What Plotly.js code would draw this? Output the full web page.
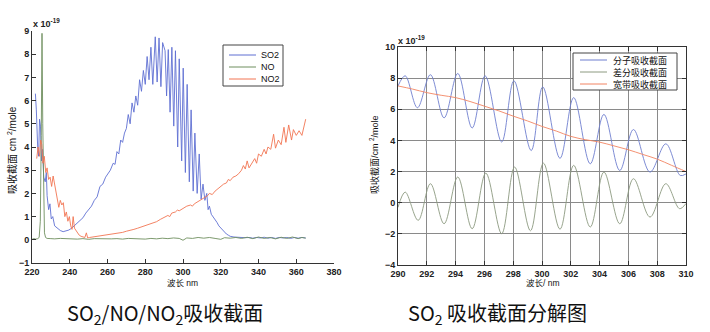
<!DOCTYPE html>
<html>
<head>
<meta charset="utf-8">
<script src="https://cdn.plot.ly/plotly-3.0.1.min.js"></script>
<style>html,body{margin:0;padding:0;background:#fff;}#chart{width:710px;height:332px;}</style>
</head>
<body>
<div id="chart"></div>
<script>
// ---------- Left chart: SO2 / NO / NO2 absorption cross sections (x 1e-19) ----------
const so2X = [221.8,222.3,223.0,223.5,224.0,224.5,225.0,225.6,226.2,227.0,227.6,228.0,228.8,229.5,230.2,231.0,232.0,233.5,235,236.5,238,239.5,241,242.5,244,245.5,247,248.5,250,251.5,253,254.5,256,257.5,259,260.5,261.5,263,264,265,266,267,268,269,270,271,272,273,274,275,276,277,278,279,280,281,282,283,284,285.3,286.3,287.3,288.3,289.2,290.5,291.3,292.2,293.15,294.1,295.1,296.0,297.2,298.0,299.3,300.1,301.25,302.2,303.35,304.3,305.4,306.3,307.5,308.6,309.6,310.6,311.6,312.6,313.3,314.0,315,316,317,318,319,320,321,322,323,324,325,327,329,331,333,335,337,339,341,343,345,347,349,351,353,355,357,359,361,363,365];
const so2Y = [6.3,5.6,4.0,3.6,5.2,4.9,3.4,3.9,2.7,2.5,2.9,1.9,1.3,1.55,0.9,1.0,0.6,0.5,0.4,0.35,0.38,0.42,0.5,0.62,0.7,0.85,0.95,1.15,1.3,1.45,1.7,1.85,2.3,2.4,2.7,2.85,3.0,3.3,3.25,3.8,3.7,4.3,4.2,4.6,4.8,5.4,5.0,5.9,5.5,6.2,5.8,6.9,6.4,7.3,6.7,7.9,6.9,8.3,6.7,8.75,6.8,8.7,6.6,8.5,8.15,6.2,8.2,5.5,8.3,4.9,8.15,4.0,7.8,3.4,7.4,2.9,6.7,2.5,5.6,2.1,4.6,2.0,3.7,1.75,2.4,1.7,2.0,1.3,1.45,1.1,1.0,0.85,0.75,0.6,0.5,0.42,0.33,0.25,0.2,0.15,0.12,0.1,0.1,0.09,0.1,0.07,0.1,0.08,0.11,0.07,0.1,0.06,0.1,0.08,0.1,0.06,0.1,0.07,0.1,0.08];

const noX = [220,221,222,223,223.8,224.4,224.9,225.3,225.7,226.1,226.6,227.2,228,230,232,235,238,241,244,247,250,253,256,259,262,265,268,271,274,277,280,283,286,289,292,295,298,300,302,305,308,311,314,317,320,322,325,328,331,334,337,340,343,346,349,352,355,358,361,363,365];
const noY = [0.02,0.05,0.03,0.05,0.1,0.8,4.5,8.9,5.0,1.5,0.3,0.1,0.06,0.05,0.04,0.06,0.04,0.05,0.03,0.05,0.02,0.05,0.04,0.06,0.04,0.05,0.03,0.06,0.04,0.05,0.03,0.06,0.04,0.07,0.05,0.08,0.06,-0.02,0.08,0.06,0.1,0.07,0.1,0.06,0.02,0.09,0.07,0.1,0.06,0.11,0.05,0.12,0.06,0.1,0.04,0.11,0.06,0.12,0.05,0.1,0.07];

const no2X = [222.5,223.2,224.0,224.6,225.2,225.8,226.5,227.3,228.0,228.8,229.6,230.4,231.2,232,232.8,233.5,234.2,235,235.8,236.6,237.4,238.2,239,239.8,240.5,241.2,241.8,242.5,243.3,244.2,245,246,247,248,248.8,249.5,250.5,252,254,256,258,260,262,264,266,268,270,272,274,276,278,280,282,284,286,288,290,292,293,294,296,297,298,300,302,304,305,306,308,310,312,313,314,315.5,317,318.5,320,321.5,323,324,325,326.5,328,329.5,331,332,333,334,335,336.5,338,339,340,341.5,343,344,345,346.5,348,349,350.5,352,353.5,354.5,356,357.5,358.5,360,361.5,363,365];
const no2Y = [3.5,4.0,3.6,4.3,4.1,3.3,3.6,2.9,3.1,2.6,2.7,2.3,2.75,2.4,2.1,1.8,1.4,1.7,1.5,1.6,1.0,1.2,0.8,1.0,0.6,0.45,1.0,0.5,0.4,0.3,0.2,0.15,0.12,0.1,0.3,0.08,0.1,0.12,0.13,0.15,0.18,0.2,0.22,0.25,0.3,0.32,0.37,0.4,0.45,0.5,0.55,0.6,0.65,0.72,0.78,0.88,0.95,1.05,1.0,1.15,1.2,1.28,1.25,1.35,1.45,1.5,1.45,1.55,1.65,1.75,1.85,1.9,2.0,1.95,2.1,2.2,2.3,2.4,2.45,2.6,2.55,2.7,2.75,2.85,3.0,3.2,3.05,3.4,3.1,3.3,3.5,3.3,3.7,3.6,3.9,3.7,4.0,3.9,4.55,3.95,4.3,4.1,4.85,4.2,4.95,4.3,4.75,4.5,4.7,4.5,5.2];

const leftNames = ['SO2','NO','NO2'];

// ---------- Right chart: SO2 cross-section decomposition (x 1e-19) ----------
const molX = [290.0,290.5,291.35,292.25,293.2,294.15,295.15,296.05,297.2,298.05,299.25,300.05,301.25,302.2,303.35,304.3,305.4,306.35,307.5,308.6,309.6,310.0];
const molY = [7.5,8.15,6.1,8.22,5.45,8.3,4.8,8.15,3.9,7.83,3.35,7.44,2.85,6.75,2.5,5.67,2.07,4.7,1.97,3.78,1.75,1.85];
const difX = [290.0,290.5,291.4,292.25,293.2,294.15,295.15,296.1,297.2,298.1,299.2,300.1,301.25,302.2,303.35,304.3,305.4,306.35,307.5,308.6,309.55,310.0];
const difY = [-0.3,0.68,-1.13,1.22,-1.35,1.65,-1.67,1.9,-1.99,2.29,-1.8,2.54,-1.7,2.4,-1.56,1.97,-1.35,1.54,-0.92,1.22,-0.38,-0.05];
const bbX = [290,291,292,293,294,295,296,297,298,299,300,301,302,303,304,305,306,307,308,309,310];
const bbY = [7.5,7.3,7.07,6.9,6.75,6.5,6.2,5.9,5.56,5.25,4.9,4.6,4.26,4.05,3.89,3.65,3.4,3.1,2.8,2.4,2.0];
const rightNames = ['分子吸收截面','差分吸收截面','宽带吸收截面'];

const leftColors = ['#5f6fd2','#6e8f5e','#f27552'];
const rightColors = ['#6f7fcf','#8c9a80','#f28462'];

const W = 710, H = 332;
const px = v => v / W;
const py = v => 1 - v / H;

const traces = [
  {x: so2X, y: so2Y, name: leftNames[0], type:'scatter', mode:'lines', line:{color:leftColors[0], width:0.9}, xaxis:'x', yaxis:'y'},
  {x: noX, y: noY, name: leftNames[1], type:'scatter', mode:'lines', line:{color:leftColors[1], width:0.9}, xaxis:'x', yaxis:'y'},
  {x: no2X, y: no2Y, name: leftNames[2], type:'scatter', mode:'lines', line:{color:leftColors[2], width:0.9}, xaxis:'x', yaxis:'y'},
  {x: molX, y: molY, name: rightNames[0], type:'scatter', mode:'lines', line:{color:rightColors[0], width:0.9, shape:'spline', smoothing:1}, xaxis:'x2', yaxis:'y2'},
  {x: difX, y: difY, name: rightNames[1], type:'scatter', mode:'lines', line:{color:rightColors[1], width:0.9, shape:'spline', smoothing:1}, xaxis:'x2', yaxis:'y2'},
  {x: bbX, y: bbY, name: rightNames[2], type:'scatter', mode:'lines', line:{color:rightColors[2], width:0.9, shape:'spline', smoothing:1}, xaxis:'x2', yaxis:'y2'}
];

const tickFont = {family:'Liberation Sans, Arial, sans-serif', size:9, color:'#222', weight:'bold'};
const axBase = {ticks:'inside', ticklen:4, tickwidth:1, tickcolor:'#333', showline:true, linecolor:'#333', linewidth:1, zeroline:false, tickfont:tickFont, fixedrange:true};

const shapes = [];
const annotations = [];

// left legend (drawn box)
shapes.push({type:'rect', xref:'paper', yref:'paper', x0:px(223), x1:px(283), y0:py(45), y1:py(86), line:{color:'#444', width:1}, fillcolor:'#fff'});
const leftLegY = [55, 67, 79];
leftNames.forEach((n,i) => {
  shapes.push({type:'line', xref:'paper', yref:'paper', x0:px(229), x1:px(256), y0:py(leftLegY[i]), y1:py(leftLegY[i]), line:{color:leftColors[i], width:1}});
  annotations.push({xref:'paper', yref:'paper', x:px(259), y:py(leftLegY[i]), text:n, showarrow:false, xanchor:'left', yanchor:'middle', font:{family:'Liberation Sans, Arial, sans-serif', size:9, color:'#111'}});
});

// right legend (drawn box)
shapes.push({type:'rect', xref:'paper', yref:'paper', x0:px(573), x1:px(677), y0:py(53), y1:py(90), line:{color:'#444', width:1}, fillcolor:'#fff'});
const rightLegY = [60, 72, 84];
rightNames.forEach((n,i) => {
  shapes.push({type:'line', xref:'paper', yref:'paper', x0:px(580), x1:px(607), y0:py(rightLegY[i]), y1:py(rightLegY[i]), line:{color:rightColors[i], width:1}});
  annotations.push({xref:'paper', yref:'paper', x:px(611), y:py(rightLegY[i]), text:n, showarrow:false, xanchor:'left', yanchor:'middle', font:{family:'Noto Sans CJK SC, sans-serif', size:9, color:'#111'}});
});

// exponent labels
annotations.push({xref:'paper', yref:'paper', x:px(31), y:py(23), text:'x 10<sup>-19</sup>', showarrow:false, xanchor:'left', yanchor:'middle', font:tickFont});
annotations.push({xref:'paper', yref:'paper', x:px(396), y:py(40), text:'x 10<sup>-19</sup>', showarrow:false, xanchor:'left', yanchor:'middle', font:tickFont});

// axis titles
annotations.push({xref:'paper', yref:'paper', x:px(12), y:py(150), text:'吸收截面 cm <sup>2</sup>/mole', textangle:-90, showarrow:false, xanchor:'center', yanchor:'middle', font:{family:'Liberation Sans, Noto Sans CJK SC, sans-serif', size:10, color:'#111'}});
annotations.push({xref:'paper', yref:'paper', x:px(374), y:py(155), text:'吸收截面/cm <sup>2</sup>/mole', textangle:-90, showarrow:false, xanchor:'center', yanchor:'middle', font:{family:'Liberation Sans, Noto Sans CJK SC, sans-serif', size:9, color:'#111'}});
annotations.push({xref:'paper', yref:'paper', x:px(182), y:py(283), text:'波长 nm', showarrow:false, xanchor:'center', yanchor:'middle', font:{family:'Liberation Sans, Noto Sans CJK SC, sans-serif', size:8.5, color:'#111'}});
annotations.push({xref:'paper', yref:'paper', x:px(543), y:py(283), text:'波长/ nm', showarrow:false, xanchor:'center', yanchor:'middle', font:{family:'Liberation Sans, Noto Sans CJK SC, sans-serif', size:8.5, color:'#111'}});

// captions
annotations.push({xref:'paper', yref:'paper', x:px(165), y:py(313), text:'SO<sub>2</sub>/NO/NO<sub>2</sub>吸收截面', showarrow:false, xanchor:'center', yanchor:'middle', font:{family:'Liberation Sans Narrow, Noto Sans CJK SC, sans-serif', size:20, color:'#111'}});
annotations.push({xref:'paper', yref:'paper', x:px(498), y:py(313), text:'SO<sub>2</sub> 吸收截面分解图', showarrow:false, xanchor:'center', yanchor:'middle', font:{family:'Liberation Sans Narrow, Noto Sans CJK SC, sans-serif', size:20, color:'#111'}});

const layout = {
  width: W, height: H,
  margin: {l:0, r:0, t:0, b:0},
  paper_bgcolor:'#fff', plot_bgcolor:'#fff',
  showlegend:false,
  xaxis: Object.assign({}, axBase, {domain:[px(32), px(334)], range:[220,380], tick0:220, dtick:20, showgrid:false, mirror:false, anchor:'y'}),
  yaxis: Object.assign({}, axBase, {domain:[py(263), py(31)], range:[-1,9], tick0:-1, dtick:1, showgrid:false, mirror:false, anchor:'x'}),
  xaxis2: Object.assign({}, axBase, {domain:[px(398), px(686)], range:[290,310], tick0:290, dtick:2, showgrid:true, gridcolor:'#8a8a8a', gridwidth:1, mirror:'ticks', anchor:'y2'}),
  yaxis2: Object.assign({}, axBase, {domain:[py(265), py(47)], range:[-4,10], tick0:-4, dtick:2, showgrid:true, gridcolor:'#8a8a8a', gridwidth:1, mirror:'ticks', anchor:'x2'}),
  shapes: shapes,
  annotations: annotations
};

Plotly.newPlot('chart', traces, layout, {staticPlot:true, displayModeBar:false});
</script>
</body>
</html>
